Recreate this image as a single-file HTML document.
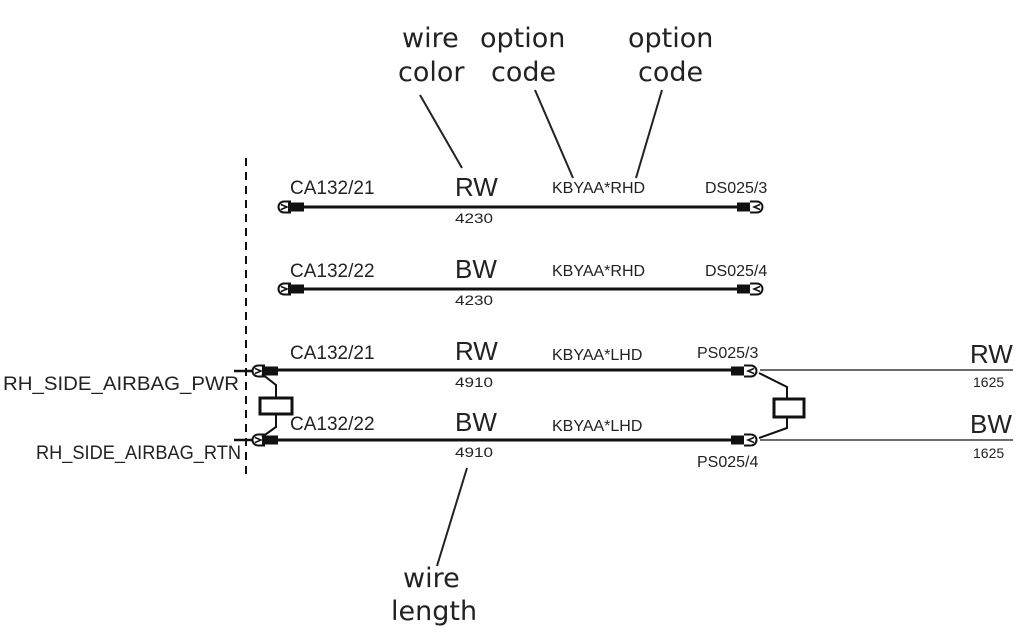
<!DOCTYPE html>
<html><head><meta charset="utf-8"><style>
html,body{margin:0;padding:0;background:#fff;}
svg{display:block;}
text{font-family:"Liberation Sans",Arial,sans-serif;fill:#222;}
.a{font-family:"DejaVu Sans","Liberation Sans",sans-serif;font-size:27px;}
</style></head><body>
<svg width="1023" height="633" viewBox="0 0 1023 633">
<defs>
<g id="lc"><path d="M14,-5.5 L7,-5.5 A5.5,5.5 0 0 0 7,5.5 L14,5.5" fill="#fff" stroke="#111" stroke-width="2"/><path d="M4,-2.5 L10,0 L4,2.5" fill="none" stroke="#111" stroke-width="1.5"/><rect x="11" y="-4.5" width="16" height="9" fill="#111"/></g>
<g id="rc"><rect x="0" y="-4.5" width="16" height="9" fill="#111"/><path d="M13,-5.5 L20,-5.5 A5.5,5.5 0 0 1 20,5.5 L13,5.5" fill="#fff" stroke="#111" stroke-width="2"/><path d="M23,-2.5 L17,0 L23,2.5" fill="none" stroke="#111" stroke-width="1.5"/></g>
</defs>
<text class="a" x="402" y="47">wire</text><text class="a" x="398" y="81">color</text>
<text class="a" x="480" y="47">option</text><text class="a" x="491" y="81">code</text>
<text class="a" x="628" y="47">option</text><text class="a" x="638" y="81">code</text>
<text class="a" x="403" y="587">wire</text><text class="a" x="391" y="620">length</text>
<g stroke="#222" stroke-width="2">
<line x1="420" y1="95" x2="462" y2="168"/><line x1="535" y1="90" x2="573" y2="178"/><line x1="662" y1="90" x2="636" y2="178"/><line x1="467" y1="468" x2="437" y2="566"/>
</g>
<line x1="246" y1="158" x2="246" y2="476" stroke="#111" stroke-width="2" stroke-dasharray="8,6"/>
<g stroke="#111" stroke-width="3">
<line x1="300" y1="207" x2="738" y2="207"/><line x1="300" y1="289" x2="738" y2="289"/>
<line x1="276" y1="370" x2="733" y2="370"/><line x1="276" y1="440" x2="733" y2="440"/>
</g>
<g stroke="#111" stroke-width="1.2">
<line x1="760" y1="370" x2="1013" y2="370"/><line x1="760" y1="440" x2="1013" y2="440"/>
</g>
<g stroke="#111" stroke-width="2.5"><line x1="234" y1="371" x2="252" y2="371"/><line x1="234" y1="440" x2="252" y2="440"/></g>
<use href="#lc" x="277" y="207"/><use href="#rc" x="737" y="207"/>
<use href="#lc" x="277" y="289"/><use href="#rc" x="737" y="289"/>
<use href="#lc" x="251" y="371"/><use href="#lc" x="251" y="440"/>
<use href="#rc" x="731" y="371"/><use href="#rc" x="731" y="440"/>
<g fill="none" stroke="#111" stroke-width="2">
<path d="M262,374 L276,385 L276,398"/><path d="M276,414 L276,427 L262,437"/>
<rect x="260" y="398" width="32" height="16" stroke-width="3"/>
<path d="M759,373 L787,387 L787,399"/><path d="M787,417 L787,428 L759,438"/>
<rect x="774" y="399" width="30" height="18" stroke-width="3"/>
</g>
<g font-size="16">
<text x="705" y="193">DS025/3</text><text x="705" y="276">DS025/4</text>
<text x="697" y="358">PS025/3</text><text x="697" y="467">PS025/4</text>
<text x="552" y="193">KBYAA*RHD</text><text x="552" y="276">KBYAA*RHD</text>
<text x="552" y="360">KBYAA*LHD</text><text x="552" y="431">KBYAA*LHD</text>
</g>
<g font-size="19">
<text x="290" y="194">CA132/21</text><text x="290" y="277">CA132/22</text>
<text x="290" y="359">CA132/21</text><text x="290" y="430">CA132/22</text>
</g>
<g font-size="19">
<text x="3" y="390" textLength="236" lengthAdjust="spacingAndGlyphs">RH_SIDE_AIRBAG_PWR</text>
<text x="36" y="459" textLength="205" lengthAdjust="spacingAndGlyphs">RH_SIDE_AIRBAG_RTN</text>
</g>
<g font-size="26">
<text x="455" y="196">RW</text><text x="455" y="278">BW</text><text x="455" y="360">RW</text><text x="455" y="431">BW</text>
<text x="970" y="363">RW</text><text x="970" y="433">BW</text>
</g>
<g font-size="14">
<text x="455" y="223" textLength="38" lengthAdjust="spacingAndGlyphs">4230</text><text x="455" y="305" textLength="38" lengthAdjust="spacingAndGlyphs">4230</text>
<text x="455" y="387" textLength="38" lengthAdjust="spacingAndGlyphs">4910</text><text x="455" y="457" textLength="38" lengthAdjust="spacingAndGlyphs">4910</text>
<text x="973" y="387">1625</text><text x="973" y="458">1625</text>
</g>
</svg>
</body></html>
